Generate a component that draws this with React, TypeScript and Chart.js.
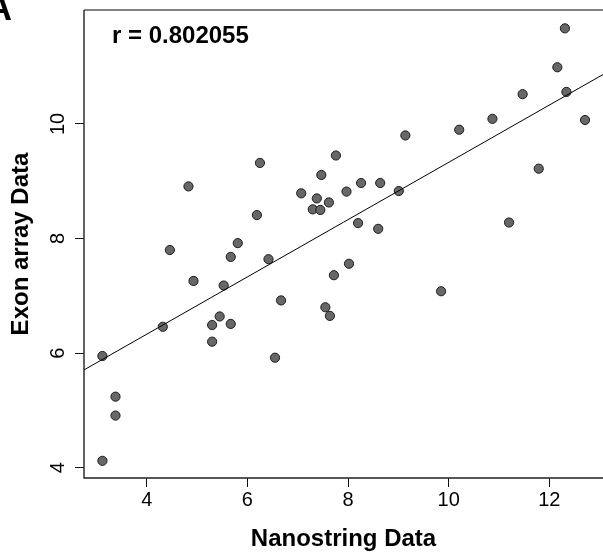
import React, { useEffect, useRef } from "react";
import { Chart, registerables } from "chart.js";

Chart.register(...registerables);

// ---- Data ----
const nanostring = [
  4.83, 6.25, 6.19, 5.81, 4.46, 5.67, 6.42, 7.07, 4.93, 5.53,
  6.67, 4.32, 5.45, 5.30, 5.67, 5.30, 6.55, 3.12, 3.38, 3.38,
  3.12, 12.31, 12.16, 12.34, 11.47, 12.71, 10.87, 10.21, 9.14, 7.76,
  7.47, 8.26, 8.64, 7.97, 9.01, 7.38, 7.62, 7.30, 7.45, 11.79,
  8.20, 8.60, 11.20, 8.02, 7.72, 9.85, 7.55, 7.64,
];
const exonArray = [
  8.91, 9.32, 8.41, 7.92, 7.80, 7.68, 7.64, 8.79, 7.26, 7.18,
  6.92, 6.46, 6.64, 6.49, 6.51, 6.20, 5.92, 5.95, 5.24, 4.91,
  4.12, 11.67, 10.99, 10.56, 10.52, 10.07, 10.09, 9.90, 9.80, 9.45,
  9.11, 8.97, 8.97, 8.82, 8.83, 8.70, 8.63, 8.51, 8.50, 9.22,
  8.27, 8.17, 8.28, 7.56, 7.36, 7.08, 6.80, 6.65,
];
const xTickValues = [4, 6, 8, 10, 12];
const yTickValues = [4, 6, 8, 10];
const xRange = [2.754, 13.067];
const yRange = [3.82, 11.99];
const fitIntercept = 4.33;
const fitSlope = 0.5;
const correlationLabel = "r = 0.802055";
const panelLabel = "A";
const xTitle = "Nanostring Data";
const yTitle = "Exon array Data";

const FONT = "'Liberation Sans', Arial, Helvetica, sans-serif";

const decorPlugin = {
  id: "decor",
  beforeDatasetsDraw(chart: any) {
    const { ctx, chartArea } = chart;
    const { left, right, top, bottom } = chartArea;
    ctx.save();
    ctx.lineWidth = 1.5;
    ctx.strokeStyle = "#5a5a5a";
    ctx.beginPath();
    ctx.moveTo(left, top);
    ctx.lineTo(right, top);
    ctx.stroke();
    ctx.strokeStyle = "#222";
    ctx.lineWidth = 1.4;
    ctx.beginPath();
    ctx.moveTo(left, top);
    ctx.lineTo(left, bottom);
    ctx.lineTo(right, bottom);
    ctx.stroke();
    ctx.restore();
  },
  afterDraw(chart: any) {
    const { ctx, chartArea } = chart;
    ctx.save();
    ctx.fillStyle = "#000";
    ctx.textBaseline = "alphabetic";
    ctx.textAlign = "left";
    ctx.font = `bold 24px ${FONT}`;
    ctx.fillText(correlationLabel, chartArea.left + 28, chartArea.top + 33.3);
    ctx.font = `bold 36px ${FONT}`;
    ctx.textAlign = "right";
    ctx.fillText(panelLabel, 12, 20);
    ctx.restore();
  },
};

export default function App() {
  const canvasRef = useRef<HTMLCanvasElement | null>(null);

  useEffect(() => {
    const canvas = canvasRef.current;
    if (!canvas) return;
    const points = nanostring.map((x, i) => ({ x, y: exonArray[i] }));
    const fitLine = xRange.map((x) => ({ x, y: fitIntercept + fitSlope * x }));

    const tickFont = { family: FONT, size: 20 };
    const titleFont = { family: FONT, size: 24, weight: "bold" as const };

    const chart = new Chart(canvas, {
      type: "scatter",
      data: {
        datasets: [
          {
            type: "line",
            data: fitLine,
            borderColor: "#000",
            borderWidth: 1,
            pointRadius: 0,
            fill: false,
          } as any,
          {
            data: points,
            backgroundColor: "#676767",
            borderColor: "#1c1c1c",
            borderWidth: 1,
            pointRadius: 4.6,
          },
        ],
      },
      options: {
        responsive: false,
        animation: false,
        devicePixelRatio: 1,
        layout: {
          autoPadding: false,
          padding: { top: 10, left: 0, right: 0, bottom: 0 },
        },
        plugins: {
          legend: { display: false },
          tooltip: { enabled: false },
        },
        scales: {
          x: {
            type: "linear",
            position: "bottom",
            min: xRange[0],
            max: xRange[1],
            afterBuildTicks: (s: any) => {
              s.ticks = xTickValues.map((v) => ({ value: v }));
            },
            afterFit: (s: any) => {
              s.height = 80;
              s.paddingLeft = 0;
              s.paddingRight = 0;
            },
            grid: {
              display: true,
              drawOnChartArea: false,
              drawTicks: true,
              tickLength: 9,
              tickColor: "#111",
              lineWidth: 1,
            },
            border: { display: false },
            ticks: {
              font: tickFont,
              color: "#000",
              padding: 1,
              minRotation: 0,
              maxRotation: 0,
              autoSkip: false,
            },
            title: {
              display: true,
              text: xTitle,
              font: titleFont,
              color: "#000",
              padding: { top: 0, bottom: 4 },
            },
          },
          y: {
            type: "linear",
            position: "left",
            min: yRange[0],
            max: yRange[1],
            afterBuildTicks: (s: any) => {
              s.ticks = yTickValues.map((v) => ({ value: v }));
            },
            afterFit: (s: any) => {
              s.width = 84;
              s.paddingTop = 0;
              s.paddingBottom = 0;
            },
            grid: {
              display: true,
              drawOnChartArea: false,
              drawTicks: true,
              tickLength: 9,
              tickColor: "#111",
              lineWidth: 1,
            },
            border: { display: false },
            ticks: {
              font: tickFont,
              color: "#000",
              padding: 5,
              minRotation: 90,
              maxRotation: 90,
              crossAlign: "center",
              autoSkip: false,
            },
            title: {
              display: true,
              text: yTitle,
              font: titleFont,
              color: "#000",
              padding: { top: 7, bottom: 0 },
            },
          },
        },
      },
      plugins: [decorPlugin],
    });

    return () => {
      chart.destroy();
    };
  }, []);

  return (
    <div
      style={{
        position: "fixed",
        left: 0,
        top: 0,
        width: 603,
        height: 558,
        background: "#fff",
      }}
    >
      <canvas
        ref={canvasRef}
        width={603}
        height={558}
        style={{ display: "block", width: 603, height: 558 }}
      />
    </div>
  );
}
